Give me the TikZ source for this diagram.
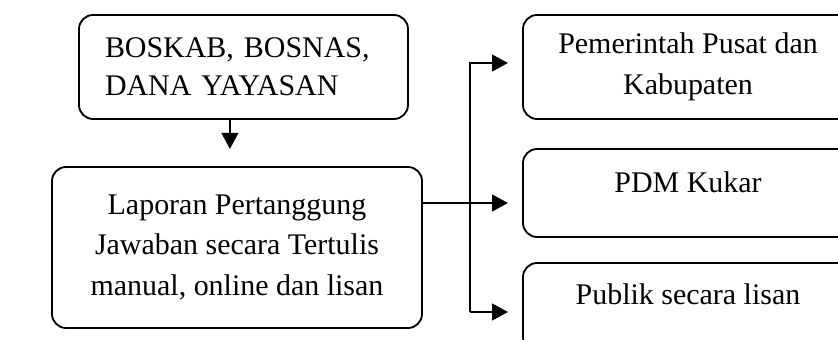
\documentclass[tikz,border=0pt]{standalone}
\usepackage{fontspec}
\setmainfont{Liberation Serif}
\usetikzlibrary{arrows.meta}

\tikzset{
    box/.style={draw, line width=1.3pt, rounded corners=10pt, align=center,
        font=\fontsize{21.3}{29}\selectfont},
    arr/.style={line width=1.4pt, -{Triangle[length=0.4cm, width=0.42cm]}}
}

\begin{document}
\begin{tikzpicture}
            \clip (0,0) rectangle (20.95,-8.5);
            
            \node[box, minimum width=8.225cm, minimum height=2.6cm, text width=6.925cm, inner xsep=0.65cm, align=left,
                font=\fontsize{21.3}{27}\selectfont] (dana) at (6.0875,-1.675) {BOSKAB, BOSNAS,\\DANA YAYASAN};
            \node[box, minimum width=9.25cm, minimum height=4.025cm] (lapor) at (5.925,-6.1875)
                {Laporan Pertanggung\\Jawaban secara Tertulis\\manual, online dan lisan};
            
            \node[box, minimum width=8.25cm, minimum height=2.6cm] (pusat) at (17.2,-1.675) {Pemerintah Pusat dan\\Kabupaten};
            \node[box, minimum width=8.25cm, minimum height=2.2cm] (pdm) at (17.2,-4.825) {};
            \node[box, minimum width=8.25cm, minimum height=2.2cm] (publik) at (17.2,-7.675) {};
            \node[box, draw=none] (pdmtext) at ([yshift=-0.85cm]pdm.north) {PDM Kukar};
            \node[box, draw=none] (publiktext) at ([yshift=-0.8cm]publik.north) {Publik secara lisan};
            
            \coordinate (split) at (11.75,-5.075);
            \coordinate (tip1) at (12.7,-1.575);
            \coordinate (tip2) at (12.7,-5.075);
            \coordinate (tip3) at (12.7,-7.8);
            
            \draw[arr] ([xshift=-0.34cm]dana.south) -- ++(0,-0.725);
            \draw[arr] (lapor.east |- tip2) -- (tip2);
            \draw[arr] (split |- tip3) -- (split |- tip1) -- (tip1);
            \draw[arr] (split |- tip3) -- (tip3);
        \end{tikzpicture}
\end{document}
